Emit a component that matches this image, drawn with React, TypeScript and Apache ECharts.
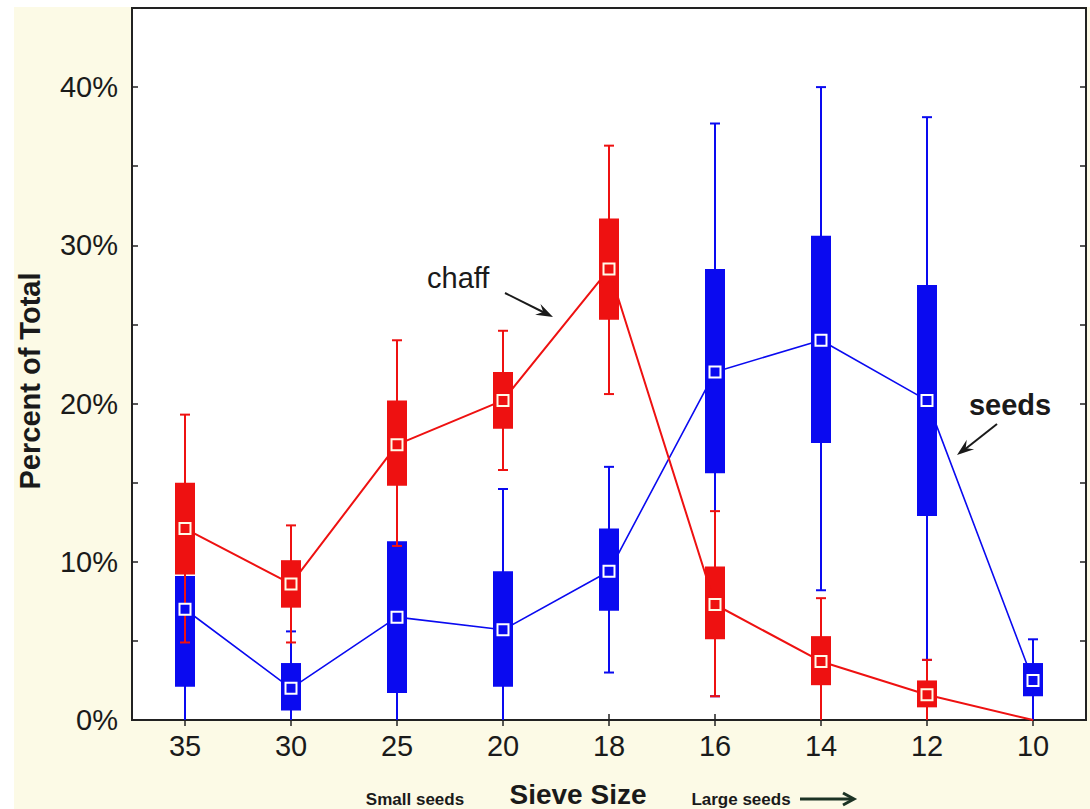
import React, { useEffect, useRef } from "react";
import * as echarts from "echarts";

const categories = ["35", "30", "25", "20", "18", "16", "14", "12", "10"];

// chaff (red)
const chaffMean = [12.1, 8.6, 17.4, 20.2, 28.5, 7.3, 3.7, 1.6, 0];
const chaffQ1 = [9.2, 7.1, 14.8, 18.4, 25.3, 5.1, 2.2, 0.8, null];
const chaffQ3 = [15.0, 10.1, 20.2, 22.0, 31.7, 9.7, 5.3, 2.5, null];
const chaffMin = [4.9, 4.9, 11.0, 15.8, 20.6, 1.5, 0, 0, null];
const chaffMax = [19.3, 12.3, 24.0, 24.6, 36.3, 13.2, 7.7, 3.8, null];

// seeds (blue)
const seedsMean = [7.0, 2.0, 6.5, 5.7, 9.4, 22.0, 24.0, 20.2, 2.5];
const seedsQ1 = [2.1, 0.6, 1.7, 2.1, 6.9, 15.6, 17.5, 12.9, 1.5];
const seedsQ3 = [9.1, 3.6, 11.3, 9.4, 12.1, 28.5, 30.6, 27.5, 3.6];
const seedsMin = [0, 0, 0, 0, 3.0, 1.5, 8.2, 3.8, 0];
const seedsMax = [12.0, 5.6, 11.3, 14.6, 16.0, 37.7, 40.0, 38.1, 5.1];

const yTicks = [0, 10, 20, 30, 40];

const RED = "#ee1111";
const BLUE = "#0a0af0";
const FONT = "Liberation Sans, Arial, sans-serif";
const INK = "#1a1a1a";

function boxData(mn: any[], q1: any[], q3: any[], mx: any[]) {
  const out: number[][] = [];
  for (let i = 0; i < categories.length; i++) {
    if (q1[i] == null) continue;
    out.push([i, mn[i], q1[i], q3[i], mx[i]]);
  }
  return out;
}

function makeRender(color: string) {
  return (params: any, api: any) => {
    const i = api.value(0);
    const vMin = api.value(1);
    const vMax = api.value(4);
    const pMin = api.coord([i, vMin]);
    const pQ1 = api.coord([i, api.value(2)]);
    const pQ3 = api.coord([i, api.value(3)]);
    const pMax = api.coord([i, vMax]);
    const x = pMin[0];
    const bw = 20;
    const cw = 10;
    const children: any[] = [
      { type: "line", shape: { x1: x, y1: pMin[1], x2: x, y2: pMax[1] }, style: { stroke: color, lineWidth: 2 } },
    ];
    if (vMax > api.value(3)) {
      children.push({ type: "line", shape: { x1: x - cw / 2, y1: pMax[1], x2: x + cw / 2, y2: pMax[1] }, style: { stroke: color, lineWidth: 2 } });
    }
    if (vMin > 0) {
      children.push({ type: "line", shape: { x1: x - cw / 2, y1: pMin[1], x2: x + cw / 2, y2: pMin[1] }, style: { stroke: color, lineWidth: 2 } });
    }
    children.push({ type: "rect", shape: { x: x - bw / 2, y: pQ3[1], width: bw, height: pQ1[1] - pQ3[1] }, style: { fill: color } });
    return { type: "group", children };
  };
}

function arrowHead(x1: number, y1: number, x2: number, y2: number, len: number, half: number, notch: number) {
  const dx = x2 - x1;
  const dy = y2 - y1;
  const L = Math.sqrt(dx * dx + dy * dy);
  const ux = dx / L;
  const uy = dy / L;
  const bx = x2 - ux * len;
  const by = y2 - uy * len;
  const px = -uy * half;
  const py = ux * half;
  return [
    [x2, y2],
    [bx + px, by + py],
    [x2 - ux * notch, y2 - uy * notch],
    [bx - px, by - py],
  ];
}

export default function App() {
  const ref = useRef<HTMLDivElement>(null);
  useEffect(() => {
    if (!ref.current) return;
    const chart = echarts.init(ref.current, null, { renderer: "svg" });
    const yLabel = (v: number) => (yTicks.indexOf(v) >= 0 ? v + "%" : "");
    const chaffLine = chaffMean.map((v, i) => (chaffQ1[i] == null ? { value: v, symbol: "none" } : v));
    const option: any = {
      animation: false,
      backgroundColor: "#fcfae6",
      grid: {
        left: 132,
        right: 4,
        top: 8,
        bottom: 89,
        show: true,
        backgroundColor: "#ffffff",
        borderColor: "#222",
        borderWidth: 2,
      },
      xAxis: [
        {
          type: "category",
          data: categories,
          position: "bottom",
          boundaryGap: true,
          axisLine: { show: true, lineStyle: { color: "#222", width: 2 } },
          axisTick: { show: true, inside: true, alignWithLabel: true, length: 6, lineStyle: { color: "#222", width: 1.5 } },
          axisLabel: { fontSize: 29, color: INK, fontFamily: FONT, margin: 11 },
          splitLine: { show: false },
        },
        {
          type: "category",
          data: categories,
          position: "top",
          boundaryGap: true,
          axisLine: { show: true, lineStyle: { color: "#222", width: 2 } },
          axisTick: { show: true, inside: true, alignWithLabel: true, length: 6, lineStyle: { color: "#222", width: 1.5 } },
          axisLabel: { show: false },
          splitLine: { show: false },
        },
      ],
      yAxis: [
        {
          type: "value",
          min: 0,
          max: 45,
          interval: 5,
          position: "left",
          axisLine: { show: true, lineStyle: { color: "#222", width: 2 } },
          axisTick: { show: true, inside: true, length: 6, lineStyle: { color: "#222", width: 1.5 } },
          axisLabel: { fontSize: 29, color: INK, fontFamily: FONT, margin: 14, formatter: yLabel },
          splitLine: { show: false },
        },
        {
          type: "value",
          min: 0,
          max: 45,
          interval: 5,
          position: "right",
          axisLine: { show: true, lineStyle: { color: "#222", width: 2 } },
          axisTick: { show: true, inside: true, length: 6, lineStyle: { color: "#222", width: 1.5 } },
          axisLabel: { show: false },
          splitLine: { show: false },
        },
      ],
      series: [
        {
          type: "custom",
          name: "seeds-box",
          renderItem: makeRender(BLUE),
          data: boxData(seedsMin, seedsQ1, seedsQ3, seedsMax),
          encode: { x: 0, y: [1, 2, 3, 4] },
          z: 2,
        },
        {
          type: "custom",
          name: "chaff-box",
          renderItem: makeRender(RED),
          data: boxData(chaffMin, chaffQ1, chaffQ3, chaffMax),
          encode: { x: 0, y: [1, 2, 3, 4] },
          z: 3,
        },
        {
          type: "line",
          name: "seeds",
          data: seedsMean,
          symbol: "rect",
          symbolSize: 11,
          lineStyle: { color: BLUE, width: 1.6 },
          itemStyle: { color: BLUE, borderColor: "#ffffff", borderWidth: 2 },
          z: 4,
        },
        {
          type: "line",
          name: "chaff",
          data: chaffLine,
          symbol: "rect",
          symbolSize: 11,
          lineStyle: { color: RED, width: 2 },
          itemStyle: { color: RED, borderColor: "#fffbe8", borderWidth: 2 },
          z: 5,
        },
      ],
      graphic: [
        { type: "rect", left: 0, top: 0, shape: { x: 0, y: 0, width: 14, height: 809 }, style: { fill: "#ffffff" }, z: -1, silent: true },
        { type: "rect", left: 0, top: 0, shape: { x: 0, y: 0, width: 1090, height: 7 }, style: { fill: "#ffffff" }, z: -1, silent: true },
        {
          type: "text",
          x: 30,
          y: 381,
          rotation: Math.PI / 2,
          style: { text: "Percent of Total", font: "bold 29px " + FONT, fill: INK, textAlign: "center", textVerticalAlign: "middle" },
          z: 10,
        },
        {
          type: "text",
          x: 415,
          y: 799,
          style: { text: "Small seeds", font: "bold 17px " + FONT, fill: INK, textAlign: "center", textVerticalAlign: "middle" },
          z: 10,
        },
        {
          type: "text",
          x: 578,
          y: 794,
          style: { text: "Sieve Size", font: "bold 28px " + FONT, fill: INK, textAlign: "center", textVerticalAlign: "middle" },
          z: 10,
        },
        {
          type: "text",
          x: 741,
          y: 799,
          style: { text: "Large seeds", font: "bold 17px " + FONT, fill: INK, textAlign: "center", textVerticalAlign: "middle" },
          z: 10,
        },
        { type: "line", shape: { x1: 800, y1: 799, x2: 853, y2: 799 }, style: { stroke: "#1c3324", lineWidth: 3 }, z: 10 },
        { type: "polyline", shape: { points: [[843, 793], [854, 799], [843, 805]] }, style: { stroke: "#1c3324", lineWidth: 3, fill: "none" }, z: 10 },
        {
          type: "text",
          x: 427,
          y: 278,
          style: { text: "chaff", font: "29px " + FONT, fill: INK, textAlign: "left", textVerticalAlign: "middle" },
          z: 10,
        },
        { type: "line", shape: { x1: 505, y1: 293, x2: 545, y2: 313 }, style: { stroke: INK, lineWidth: 2 }, z: 10 },
        { type: "polygon", shape: { points: arrowHead(505, 293, 553, 317, 17, 6, 11) }, style: { fill: INK }, z: 10 },
        {
          type: "text",
          x: 1010,
          y: 405,
          style: { text: "seeds", font: "bold 29px " + FONT, fill: INK, textAlign: "center", textVerticalAlign: "middle" },
          z: 10,
        },
        { type: "line", shape: { x1: 997, y1: 424, x2: 964, y2: 450 }, style: { stroke: INK, lineWidth: 2 }, z: 10 },
        { type: "polygon", shape: { points: arrowHead(997, 424, 957, 455, 17, 6, 11) }, style: { fill: INK }, z: 10 },
      ],
    };
    chart.setOption(option);
    return () => chart.dispose();
  }, []);
  return <div ref={ref} style={{ position: "fixed", left: 0, top: 0, width: 1090, height: 809 }} />;
}
